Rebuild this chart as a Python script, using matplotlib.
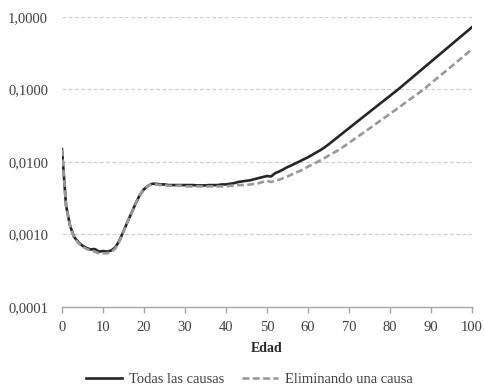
import matplotlib
matplotlib.use("Agg")
import matplotlib.pyplot as plt
from matplotlib.ticker import FixedLocator, FuncFormatter

ages = list(range(0, 101))

todas = [
    0.015, 0.0025, 0.0013, 0.00092, 0.00078, 0.00070, 0.00065, 0.00062, 0.00063, 0.00058,
    0.00059, 0.00058, 0.00060, 0.00066, 0.00082, 0.0011, 0.0015, 0.0020, 0.0027, 0.0035,
    0.0042, 0.0047, 0.0050, 0.0050, 0.0049, 0.0049, 0.0048, 0.0048, 0.0048, 0.0048,
    0.0048, 0.0048, 0.0048, 0.00475, 0.00475, 0.00475, 0.0048, 0.0048, 0.0048, 0.0049,
    0.0049, 0.0050, 0.0051, 0.0053, 0.0054, 0.0055, 0.0056, 0.0058, 0.0060, 0.0062,
    0.0064, 0.0063, 0.0070, 0.0074, 0.0079, 0.0085, 0.0090, 0.0096, 0.0102, 0.0109,
    0.0116, 0.0125, 0.0135, 0.0145, 0.0158, 0.01740, 0.01930, 0.02140, 0.02375, 0.02635,
    0.02920, 0.03240, 0.03594, 0.03982, 0.04413, 0.04889, 0.05417, 0.06002, 0.06651, 0.07369,
    0.08165, 0.09047, 0.1002, 0.1119, 0.1249, 0.1393, 0.1555, 0.1735, 0.1937, 0.2161,
    0.2412, 0.2692, 0.3004, 0.3352, 0.3741, 0.4175, 0.4659, 0.5200, 0.5803, 0.6476,
    0.7227,
]

eliminando = [
    0.015, 0.0025, 0.0013, 0.00090, 0.00076, 0.00068, 0.00063, 0.00060, 0.00058, 0.00055,
    0.00055, 0.00055, 0.00057, 0.00064, 0.00080, 0.0011, 0.0015, 0.0020, 0.0027, 0.0035,
    0.0042, 0.0047, 0.0049, 0.0049, 0.0048, 0.0048, 0.0047, 0.0047, 0.0047, 0.0047,
    0.0046, 0.0046, 0.0046, 0.0046, 0.0046, 0.0046, 0.0046, 0.0046, 0.0046, 0.0046,
    0.0046, 0.0047, 0.0047, 0.0048, 0.0048, 0.0048, 0.0049, 0.0050, 0.0051, 0.0053,
    0.0055, 0.0053, 0.0055, 0.0057, 0.0060, 0.0063, 0.0067, 0.0071, 0.0075, 0.0080,
    0.0086, 0.0092, 0.0098, 0.0105, 0.0113, 0.0122, 0.0131, 0.0141, 0.0153, 0.0167,
    0.0183, 0.0201, 0.0220, 0.0241, 0.0264, 0.0290, 0.0318, 0.0349, 0.0383, 0.0420,
    0.0460, 0.0505, 0.0554, 0.0610, 0.0675, 0.0740, 0.0812, 0.0892, 0.0980, 0.1090,
    0.1215, 0.1355, 0.1510, 0.1680, 0.1870, 0.2080, 0.2320, 0.2580, 0.2880, 0.3220,
    0.3600,
]

y_ticks = [0.0001, 0.001, 0.01, 0.1, 1.0]
x_ticks = list(range(0, 101, 10))

plt.rcParams['font.family'] = ['Liberation Serif', 'DejaVu Serif']

fig = plt.figure(figsize=(4.84, 3.91), dpi=100)
ax = fig.add_axes([0.128, 0.215, 0.847, 0.7415])

ax.plot(ages, todas, color='#262626', lw=1.9, label='Todas las causas', zorder=3)
ax.plot(ages, eliminando, color='#999999', lw=1.9, dashes=(2.6, 1.3),
        label='Eliminando una causa', zorder=4)

ax.set_yscale('log')
ax.set_ylim(0.0001, 1.0)
ax.set_xlim(0, 100)
ax.yaxis.set_major_locator(FixedLocator(y_ticks))
ax.yaxis.set_minor_locator(FixedLocator([]))
ax.yaxis.set_major_formatter(FuncFormatter(lambda v, p: f"{v:.4f}".replace('.', ',')))
ax.set_xticks(x_ticks)

for v in y_ticks[1:]:
    ax.axhline(v, color='#d0d0d0', lw=0.9, ls=(0, (3, 2)), zorder=1)

for s in ['top', 'right', 'left']:
    ax.spines[s].set_visible(False)
ax.spines['bottom'].set_color('#a6a6a6')
ax.spines['bottom'].set_linewidth(1.0)
ax.tick_params(axis='x', colors='#a6a6a6', length=4, width=1.0, labelcolor='#404040',
               labelsize=10.5, pad=6)
ax.tick_params(axis='y', length=0, labelcolor='#404040', labelsize=10.5, pad=10)

ax.set_xlabel('Edad', fontsize=10, fontweight='bold', color='#262626', labelpad=6)

fig.legend(loc='lower center', bbox_to_anchor=(0.515, -0.022), ncol=2, frameon=False,
           fontsize=10.5, handlelength=2.5, columnspacing=1.2, handletextpad=0.45,
           labelcolor='#404040')

fig.savefig('out.png', dpi=100)
